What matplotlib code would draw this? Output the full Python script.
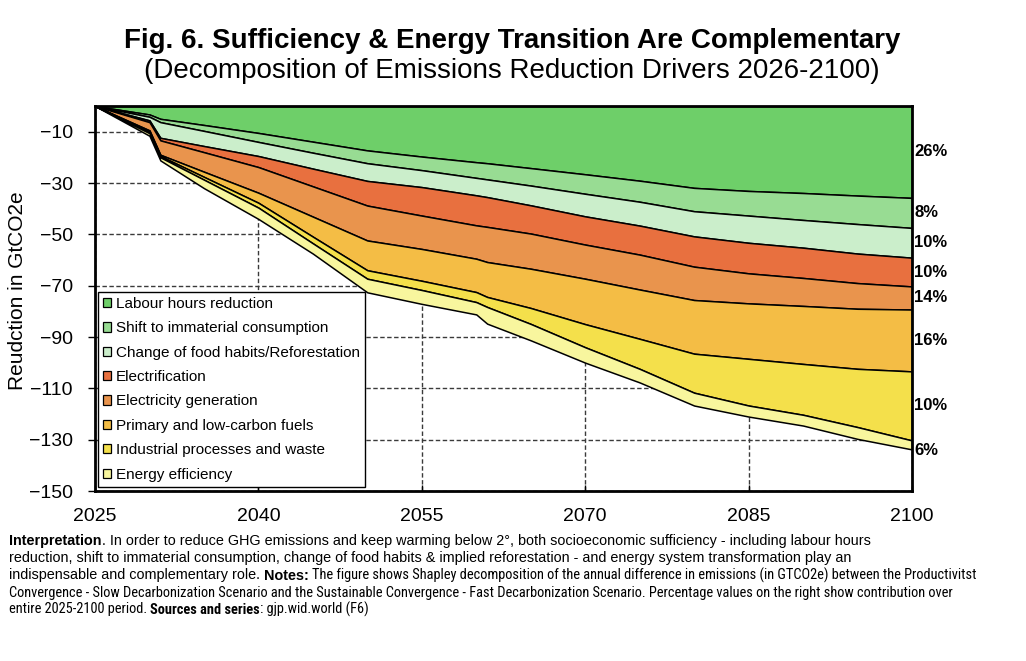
import matplotlib
matplotlib.use('Agg')
import matplotlib.pyplot as plt
from matplotlib import font_manager as fm
from matplotlib.patches import Patch
from matplotlib.transforms import blended_transform_factory

# ---------------- data (GtCO2e) ----------------
years = [2025, 2030, 2031, 2035, 2040, 2045, 2050, 2055, 2060, 2061, 2065, 2070,
         2075, 2080, 2085, 2090, 2095, 2100]

labour_hours = [0, -3.3, -5.0, -7.4, -10.5, -13.9, -17.3, -19.7, -21.9, -22.3, -24.2, -26.6,
                -29.1, -31.9, -33.1, -33.9, -34.9, -35.8]
immaterial = [0, -0.9, -1.3, -2.3, -3.5, -4.3, -5.0, -5.3, -6.1, -6.3, -6.8, -7.6,
              -8.2, -9.1, -9.6, -10.5, -11.1, -11.7]
food_reforest = [0, -1.4, -6.1, -5.9, -5.5, -6.2, -6.9, -6.6, -6.8, -6.9, -7.7, -8.8,
                 -9.3, -9.8, -10.6, -10.8, -11.5, -11.6]
electrification = [0, -0.7, -1.0, -2.4, -4.3, -6.9, -9.6, -11.1, -11.7, -11.6, -11.0, -11.0,
                   -11.3, -11.8, -11.9, -11.8, -11.5, -11.2]
electricity_gen = [0, -3.2, -5.6, -7.6, -10.0, -11.8, -13.6, -13.0, -13.0, -13.7, -13.7, -13.3,
                   -13.6, -13.0, -11.7, -10.9, -10.0, -9.0]
primary_fuels = [0, -0.6, -0.5, -2.0, -3.9, -7.8, -11.6, -12.4, -13.0, -13.6, -15.3, -17.7,
                 -19.2, -20.9, -21.6, -22.6, -23.4, -24.1]
industrial = [0, -0.5, -0.5, -1.1, -1.9, -2.6, -3.3, -3.6, -3.9, -3.9, -6.2, -9.0,
              -11.7, -15.2, -18.2, -19.8, -22.7, -26.9]
efficiency = [0, -1.0, -1.2, -3.3, -4.4, -4.0, -5.3, -5.4, -4.8, -6.5, -6.4, -6.0,
              -5.3, -5.0, -4.3, -4.2, -4.6, -3.5]

categories = ["Labour hours reduction", "Shift to immaterial consumption",
              "Change of food habits/Reforestation", "Electrification",
              "Electricity generation", "Primary and low-carbon fuels",
              "Industrial processes and waste", "Energy efficiency"]
pct_labels = ["26%", "8%", "10%", "10%", "14%", "16%", "10%", "6%"]
colors = ["#6ECF69", "#98DC93", "#CBEECB", "#E8703F", "#E9944D", "#F4BD45",
          "#F4E04B", "#F8F69E"]

x_ticks = [2025, 2040, 2055, 2070, 2085, 2100]
y_ticks = [-10, -30, -50, -70, -90, -110, -130, -150]

title = "Fig. 6. Sufficiency & Energy Transition Are Complementary"
subtitle = "(Decomposition of Emissions Reduction Drivers 2026-2100)"
ylabel = "Reudction in GtCO2e"

# ---------------- figure ----------------
plt.rcParams['font.family'] = ['Liberation Sans', 'DejaVu Sans']
plt.rcParams['axes.unicode_minus'] = True

W, H = 1026, 661
fig = plt.figure(figsize=(W / 100, H / 100), dpi=100)
fig.patch.set_facecolor('white')
ax = fig.add_axes([95 / W, 170 / H, 817 / W, 385 / H])

series = [labour_hours, immaterial, food_reforest, electrification,
          electricity_gen, primary_fuels, industrial, efficiency]
ax.stackplot(years, *series, colors=colors, edgecolor='black',
             linewidth=1.1, zorder=3)

ax.set_xlim(2025, 2100)
ax.set_ylim(-150, 0)
ax.set_xticks(x_ticks)
ax.set_yticks(y_ticks)
ax.tick_params(axis='x', direction='in', length=4, width=1, pad=12.5, labelsize=14)
ax.tick_params(axis='y', direction='out', length=5, width=1, pad=11, labelsize=14)
ax.grid(True, color='#3a3a3a', linestyle=(0, (3.2, 1.8)), linewidth=1.0, zorder=0)
ax.set_axisbelow(True)
for s in ax.spines.values():
    s.set_linewidth(2.0)
    s.set_zorder(5)

ax.set_ylabel(ylabel, fontsize=15)
ax.yaxis.set_label_coords(-0.083, 0.52)

# percentage labels at the right of each band (mid-band at 2100)
trans = blended_transform_factory(ax.transAxes, ax.transData)
cum = 0.0
for vals, lab in zip(series, pct_labels):
    top = cum
    cum = cum + vals[-1]
    ymid = (top + cum) / 2
    if lab == "6%":
        ymid = cum - 0.5
    ax.text(1.003, ymid, lab, transform=trans, ha='left', va='center',
            fontsize=12, fontweight='bold', clip_on=False)

handles = [Patch(facecolor=c, edgecolor='black', linewidth=0.9) for c in colors]
leg = ax.legend(handles, categories, loc='lower left',
                bbox_to_anchor=(2.5 / 817, 4 / 385), borderaxespad=0,
                fontsize=11, frameon=True, fancybox=False, framealpha=1,
                edgecolor='black', handlelength=0.55, handleheight=0.55,
                handletextpad=0.3, labelspacing=0.68, borderpad=0.35)
leg.get_frame().set_linewidth(1.0)
leg.set_zorder(6)

# titles
fig.text(512 / W, 1 - 48 / H, title, ha='center', va='baseline',
         fontsize=20, fontweight='bold')
fig.text(512 / W, 1 - 78 / H, subtitle, ha='center', va='baseline', fontsize=20)

# ---------------- caption with mixed fonts ----------------
names = {f.name for f in fm.fontManager.ttflist}
wide_family = ['Liberation Sans', 'DejaVu Sans']
cap_size = 10.4
renderer = fig.canvas.get_renderer()


def measure(txt, family, weight, size):
    t = fig.text(0, 0, txt, family=family, fontweight=weight, fontsize=size)
    bb = t.get_window_extent(renderer)
    t.remove()
    return bb.width


ref_line = ("Convergence - Slow Decarbonization Scenario and the Sustainable Convergence"
            " - Fast Decarbonization Scenario. Percentage values on the right show contribution over")
narrow_family = None
for cand in ['Liberation Sans Narrow', 'Arial Narrow', 'Roboto Condensed', 'Roboto']:
    if cand in names:
        narrow_family = [cand, 'DejaVu Sans']
        break
if narrow_family is None:
    narrow_family = ['Liberation Sans', 'DejaVu Sans']
w = measure(ref_line, narrow_family, 'normal', 10)
narrow_size = 10 * 945 / w

caption = [
    [("Interpretation", 'bold', 'w'),
     (". In order to reduce GHG emissions and keep warming below 2°, both socioeconomic sufficiency - including labour hours", 'normal', 'w')],
    [("reduction, shift to immaterial consumption, change of food habits & implied reforestation - and energy system transformation play an", 'normal', 'w')],
    [("indispensable and complementary role. ", 'normal', 'w'), ("Notes:", 'bold', 'w'),
     (" The figure shows Shapley decomposition of the annual difference in emissions (in GTCO2e) between the Productivitst", 'normal', 'n')],
    [("Convergence - Slow Decarbonization Scenario and the Sustainable Convergence - Fast Decarbonization Scenario. Percentage values on the right show contribution over", 'normal', 'n')],
    [("entire 2025-2100 period. ", 'normal', 'n'), ("Sources and series", 'bold', 'n'),
     (": gjp.wid.world (F6)", 'normal', 'n')],
]
baselines = [545, 562, 579.5, 596.5, 613.5]

for line, yb in zip(caption, baselines):
    x = 9.0
    for txt, weight, kind in line:
        fam = wide_family if kind == 'w' else narrow_family
        size = cap_size if kind == 'w' else narrow_size
        sp = measure("x x", fam, weight, size) - measure("xx", fam, weight, size)
        lead = len(txt) - len(txt.lstrip(' '))
        trail = len(txt) - len(txt.rstrip(' '))
        core = txt.strip(' ')
        x += lead * sp
        t = fig.text(x / W, 1 - yb / H, core, family=fam, fontweight=weight,
                     fontsize=size, ha='left', va='baseline')
        bb = t.get_window_extent(renderer)
        x = bb.x1 + trail * sp

fig.savefig('out.png', dpi=100, facecolor='white')
